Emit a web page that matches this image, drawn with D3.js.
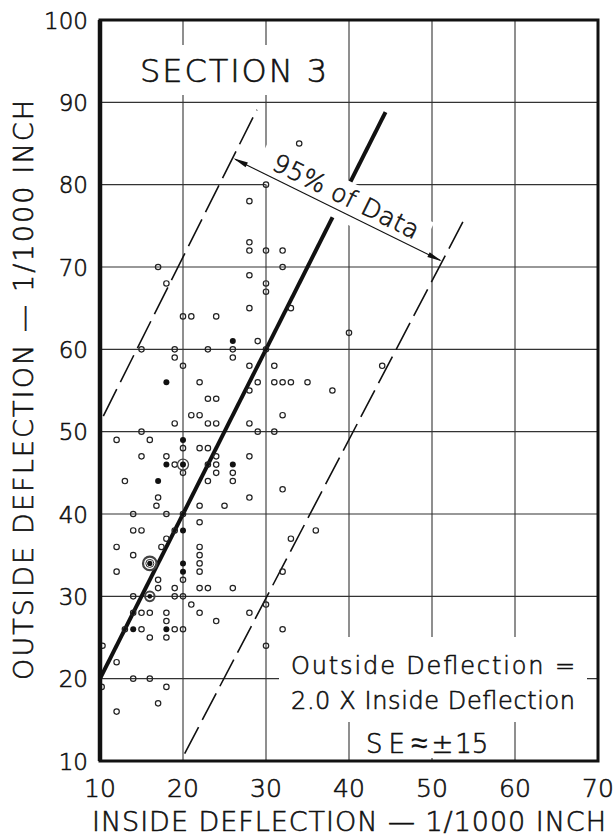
<!DOCTYPE html>
<html lang="en">
<head>
<meta charset="utf-8">
<title>Section 3 - outside vs inside deflection</title>
<script src="https://cdn.jsdelivr.net/npm/d3@7"></script>
<style>
  body { margin:0; background:#fff; }
  svg { display:block; font-family:"DejaVu Sans", sans-serif; font-weight:300; }
  svg text { fill:#111; stroke:#111; stroke-width:0.6px; }
</style>
</head>
<body>
<div id="chart"></div>
<script>
// axis ticks
const xTicks = [10, 20, 30, 40, 50, 60, 70];
const yTicks = [10, 20, 30, 40, 50, 60, 70, 80, 90, 100];

// [inside, outside] deflection
const openPts = [
  [34,85],[30,80],[28,78],[28,73],[28,72],[30,72],[32,72],[17,70],[32,70],[28,69],
  [18,68],[30,68],[30,67],[28,65],[33,65],[20,64],[21,64],[24,64],[40,62],[29,61],
  [15,60],[19,60],[23,60],[26,60],[30,60],[19,59],[26,59],[20,58],[28,58],[31,58],
  [44,58],[22,56],[29,56],[31,56],[32,56],[33,56],[35,56],[28,55],[38,55],[23,54],
  [24,54],[21,52],[22,52],[32,52],[19,51],[23,51],[24,51],[28,51],[15,50],[29,50],
  [31,50],[12,49],[16,49],[20,48],[22,48],[23,48],[15,47],[18,47],[24,47],[28,47],
  [19,46],[23,46],[24,46],[20,45],[24,45],[26,45],[13,44],[23,44],[26,44],[32,43],
  [17,42],[28,42],[16.8,41],[22,41],[25,41],[14,40],[18,40],[20,40],[22,39],[14,38],
  [15,38],[19,38],[36,38],[18,37],[33,37],[12,36],[17.4,36],[22,36],[14,35],[22,35],
  [22,34],[12,33],[22,33],[32,33],[17,32],[20,32],[17,31],[19,31],[22,31],[23,31],
  [26,31],[14,30],[19,30],[20,30],[21,29],[30,29],[14,28],[15,28],[16,28],[18,28],
  [22,28],[28,28],[18,27],[24,27],[13,26],[15,26],[19,26],[20,26],[32,26],[16,25],
  [18,25],[10.3,24],[30,24],[12,22],[14,20],[16,20],[10.2,19],[18,19],[17,17],[12,16]
];
const filledPts = [
  [26,61],[18,56],[20,49],[18,46],[26,46],[17,44],[20,38],[20,34],[20,33],[14,26],[18,26]
];
// multiple readings at one spot (drawn as rings)
const ringPts = [[20,46],[16,34],[16,30]];

// fitted line: outside = 2.0 x inside
const fitSlope = 2.0;
const fitRange = [10, 44.4];
// 95% band limits (dashed) and the arrow between them
const upperBand = [[10.4,51.9],[28.9,89.1]];
const lowerBand = [[20.2,10.9],[54.1,76.2]];
const spreadArrow = [[26.06,83.2],[51.2,70.7]];

const W = 614, H = 837;
const x = d3.scaleLinear().domain([10,70]).range([100,598]);
const y = d3.scaleLinear().domain([10,100]).range([761,20]);

const svg = d3.select("#chart").append("svg")
  .attr("width", W).attr("height", H);

const ink = "#111";

// grid
svg.append("g").selectAll("line").data(xTicks.slice(1,-1)).join("line")
  .attr("x1", d => x(d)).attr("x2", d => x(d))
  .attr("y1", y(100)).attr("y2", y(10))
  .attr("stroke", "#333").attr("stroke-width", 1.1);
svg.append("g").selectAll("line").data(yTicks.slice(1,-1)).join("line")
  .attr("y1", d => y(d)).attr("y2", d => y(d))
  .attr("x1", x(10)).attr("x2", x(70))
  .attr("stroke", "#333").attr("stroke-width", 1.1);

const line = d3.line().x(d => x(d[0])).y(d => y(d[1]));

// fit line
svg.append("path")
  .attr("d", line(fitRange.map(v => [v, fitSlope * v])))
  .attr("stroke", ink).attr("stroke-width", 4).attr("fill", "none");

// band lines
svg.append("g").selectAll("path").data([upperBand, lowerBand]).join("path")
  .attr("d", d => line(d))
  .attr("stroke", ink).attr("stroke-width", 1.6).attr("fill", "none")
  .attr("stroke-dasharray", "30,8");

// knockouts behind the labels
const A = [x(spreadArrow[0][0]), y(spreadArrow[0][1])];
const B = [x(spreadArrow[1][0]), y(spreadArrow[1][1])];
const len = Math.hypot(B[0]-A[0], B[1]-A[1]);
const ang = Math.atan2(B[1]-A[1], B[0]-A[0]) * 180 / Math.PI;

const knock = svg.append("g").attr("fill", "#fff");
knock.append("rect").attr("x", 135).attr("y", 45).attr("width", 200).attr("height", 50);
knock.append("rect").attr("x", 279).attr("y", 637).attr("width", 308).attr("height", 85);
knock.append("rect").attr("x", 354).attr("y", 722).attr("width", 158).attr("height", 36);
knock.append("rect")
  .attr("transform", `translate(${A[0]},${A[1]}) rotate(${ang})`)
  .attr("x", 24).attr("y", -31).attr("width", len - 48).attr("height", 40);

// points
svg.append("g").selectAll("circle").data(openPts).join("circle")
  .attr("cx", d => x(d[0])).attr("cy", d => y(d[1])).attr("r", 2.7)
  .attr("fill", "none").attr("stroke", "#222").attr("stroke-width", 1.2);
svg.append("g").selectAll("circle").data(filledPts).join("circle")
  .attr("cx", d => x(d[0])).attr("cy", d => y(d[1])).attr("r", 3)
  .attr("fill", "#111");

const ringStyle = [
  {outer: 5.5, ow: 1.3, inner: 0, dot: 3},
  {outer: 6.8, ow: 2.2, inner: 4, dot: 2.6},
  {outer: 4.8, ow: 2.0, inner: 0, dot: 2.4}
];
const rings = svg.append("g").selectAll("g").data(ringPts).join("g")
  .attr("transform", d => `translate(${x(d[0])},${y(d[1])})`);
rings.append("circle").attr("r", (d,i) => ringStyle[i].outer)
  .attr("fill", "none").attr("stroke", "#444").attr("stroke-width", (d,i) => ringStyle[i].ow);
rings.filter((d,i) => ringStyle[i].inner > 0).append("circle")
  .attr("r", 4).attr("fill", "none").attr("stroke", "#333").attr("stroke-width", 1);
rings.append("circle").attr("r", (d,i) => ringStyle[i].dot).attr("fill", "#111");

// arrow + label
const arr = svg.append("g")
  .attr("transform", `translate(${A[0]},${A[1]}) rotate(${ang})`);
arr.append("line").attr("x1", 2).attr("x2", len - 2).attr("y1", 0).attr("y2", 0)
  .attr("stroke", ink).attr("stroke-width", 1.1);
arr.append("path").attr("d", "M0,0L15,-2.6L15,2.6Z").attr("fill", ink);
arr.append("path").attr("d", `M${len},0L${len-15},-2.6L${len-15},2.6Z`).attr("fill", ink);
arr.append("text").attr("x", 38).attr("y", -7)
  .attr("font-size", 25).attr("textLength", 160).attr("lengthAdjust", "spacing")
  .text("95% of Data");

// titles and notes
svg.append("text").attr("x", 140).attr("y", 82)
  .attr("font-size", 32).attr("textLength", 187).attr("lengthAdjust", "spacing")
  .text("SECTION 3");

svg.append("text").attr("x", 291).attr("y", 674)
  .attr("font-size", 24).attr("textLength", 284).attr("lengthAdjust", "spacing")
  .text("Outside Deflection =");
svg.append("text").attr("x", 291).attr("y", 709)
  .attr("font-size", 24).attr("textLength", 284).attr("lengthAdjust", "spacing")
  .text("2.0 X Inside Deflection");
const se = svg.append("text").attr("x", 366).attr("y", 753).attr("font-size", 26);
se.append("tspan").attr("letter-spacing", 6).text("SE");
se.append("tspan").attr("font-size", 30).attr("stroke-width", 0.2).text("≈");
se.append("tspan").attr("dx", 4).text("±");
se.append("tspan").attr("dx", 2).text("15");

// tick labels
svg.append("g").selectAll("text").data(yTicks).join("text")
  .attr("x", 88).attr("y", d => y(d) + 8.5)
  .attr("text-anchor", "end").attr("font-size", 23)
  .text(d => d);
svg.append("g").selectAll("text").data(xTicks).join("text")
  .attr("x", d => x(d)).attr("y", 797)
  .attr("text-anchor", "middle").attr("font-size", 25)
  .text(d => d);

// axis titles
svg.append("text").attr("x", 92).attr("y", 831)
  .attr("font-size", 27).attr("textLength", 514).attr("lengthAdjust", "spacing")
  .text("INSIDE DEFLECTION — 1/1000 INCH");
svg.append("text").attr("transform", "translate(33,390) rotate(-90)")
  .attr("text-anchor", "middle")
  .attr("font-size", 27).attr("textLength", 580).attr("lengthAdjust", "spacing")
  .text("OUTSIDE DEFLECTION — 1/1000 INCH");

// frame
svg.append("rect")
  .attr("x", x(10)).attr("y", y(100))
  .attr("width", x(70) - x(10)).attr("height", y(10) - y(100))
  .attr("fill", "none").attr("stroke", ink).attr("stroke-width", 3);
svg.append("line")
  .attr("x1", x(10)).attr("x2", x(10)).attr("y1", y(100)).attr("y2", y(10))
  .attr("stroke", ink).attr("stroke-width", 4.5);
</script>
</body>
</html>
